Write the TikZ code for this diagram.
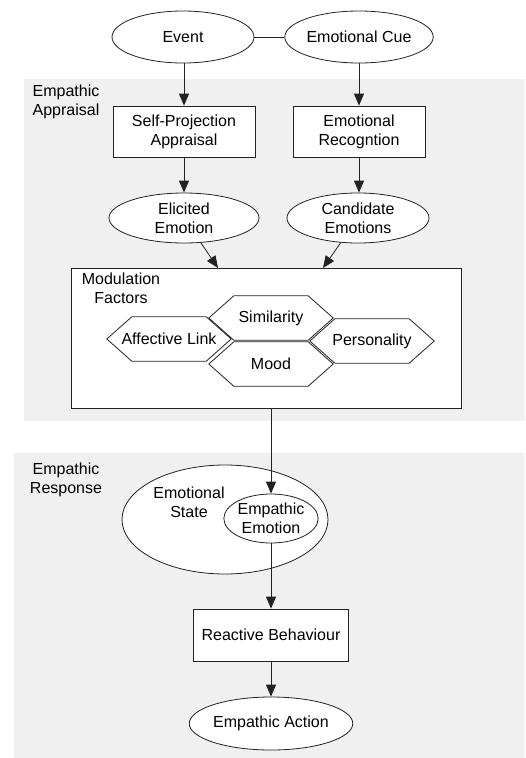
\documentclass[tikz,border=0pt]{standalone}
\usepackage{fontspec}
\setmainfont{Liberation Sans}
\usetikzlibrary{shapes.geometric,arrows.meta,calc}
\definecolor{bggray}{HTML}{F0F0F0}
\definecolor{ln}{HTML}{222222}
\newcommand\hexdraw[1]{%
  \draw[ln, line width=0.8pt, fill=white]
    (#1.west) -- ($(#1.north west)+(25,0)$) -- ($(#1.north east)+(-25,0)$) --
    (#1.east) -- ($(#1.south east)+(-25,0)$) -- ($(#1.south west)+(25,0)$) -- cycle;
  \node at (#1.center) {\csname hextxt#1\endcsname};}
\begin{document}
\begin{tikzpicture}[x=1pt,y=-1pt,
  every node/.style={font=\fontsize{16}{19}\selectfont, align=center, inner sep=0pt},
  ell/.style={draw=ln, line width=0.8pt, fill=white, ellipse},
  boxn/.style={draw=ln, line width=0.8pt, fill=white, rectangle},
  hexa/.style={rectangle, minimum width=124pt, minimum height=44pt},
  arr/.style={draw=ln, line width=0.8pt, -{Triangle[length=12pt,width=10pt]}},
  conn/.style={draw=ln, line width=0.8pt}
]
\useasboundingbox (0,0) rectangle (525,758);
\fill[bggray] (24,79) rectangle (525,421);
\fill[bggray] (14,453) rectangle (525,758);

\node (lblA) at (66,102) {Empathic\\Appraisal};
\node (lblR) at (66,480) {Empathic\\Response};

\node[ell, minimum width=142pt, minimum height=52pt] (event) at (183,37) {Event};
\node[ell, minimum width=146pt, minimum height=52pt] (cue) at (359,37) {Emotional Cue};
\draw[conn] (event.east) -- (cue.west);

\node[boxn, minimum width=142pt, minimum height=51pt] (spa) at (184,131.5) {Self-Projection\\Appraisal};
\node[boxn, minimum width=132pt, minimum height=51pt] (er) at (359,131.5) {Emotional\\Recogntion};
\draw[arr] (event.south -| spa.north) -- (spa.north);
\draw[arr] (cue.south -| er.north) -- (er.north);

\node[ell, minimum width=150pt, minimum height=50pt] (eli) at (184,218) {Elicited\\Emotion};
\node[ell, minimum width=142pt, minimum height=50pt] (cand) at (358,218) {Candidate\\Emotions};
\draw[arr] (spa.south) -- (spa.south |- eli.north);
\draw[arr] (er.south) -- (er.south |- cand.north);

\node[boxn, minimum width=390pt, minimum height=140pt] (mod) at (266,338) {};
\node (modt) at (121,288) {Modulation\\Factors};
\coordinate (a1) at (218,268);
\coordinate (a2) at (323,268);
\draw[arr] (eli) -- (a1);
\draw[arr] (cand) -- (a2);

\node[hexa] (sim) at (271,318) {};
\node[hexa] (aff) at (169,339) {};
\node[hexa] (mood) at (271,364) {};
\node[hexa] (pers) at (372,341) {};
\def\hextxtsim{Similarity}
\def\hextxtaff{Affective Link}
\def\hextxtmood{Mood}
\def\hextxtpers{Personality}
\hexdraw{sim}
\hexdraw{aff}
\hexdraw{mood}
\hexdraw{pers}

\node[ell, minimum width=206pt, minimum height=109pt] (es) at (225,519.5) {};
\node (est) at (189,502) {Emotional\\State};
\node[ell, minimum width=93pt, minimum height=49pt] (ee) at (271,518.5) {Empathic\\Emotion};
\coordinate (m1) at (271,408);
\draw[arr] (m1) -- (ee.north);

\node[boxn, minimum width=155pt, minimum height=52pt] (rb) at (271,635) {Reactive Behaviour};
\draw[arr] (ee.south) -- (rb.north);
\node[ell, minimum width=140pt, minimum height=53pt] (ea) at (271,723.5) {Empathic Action};
\draw[arr] (rb.south) -- (ea.north);
\end{tikzpicture}
\end{document}
